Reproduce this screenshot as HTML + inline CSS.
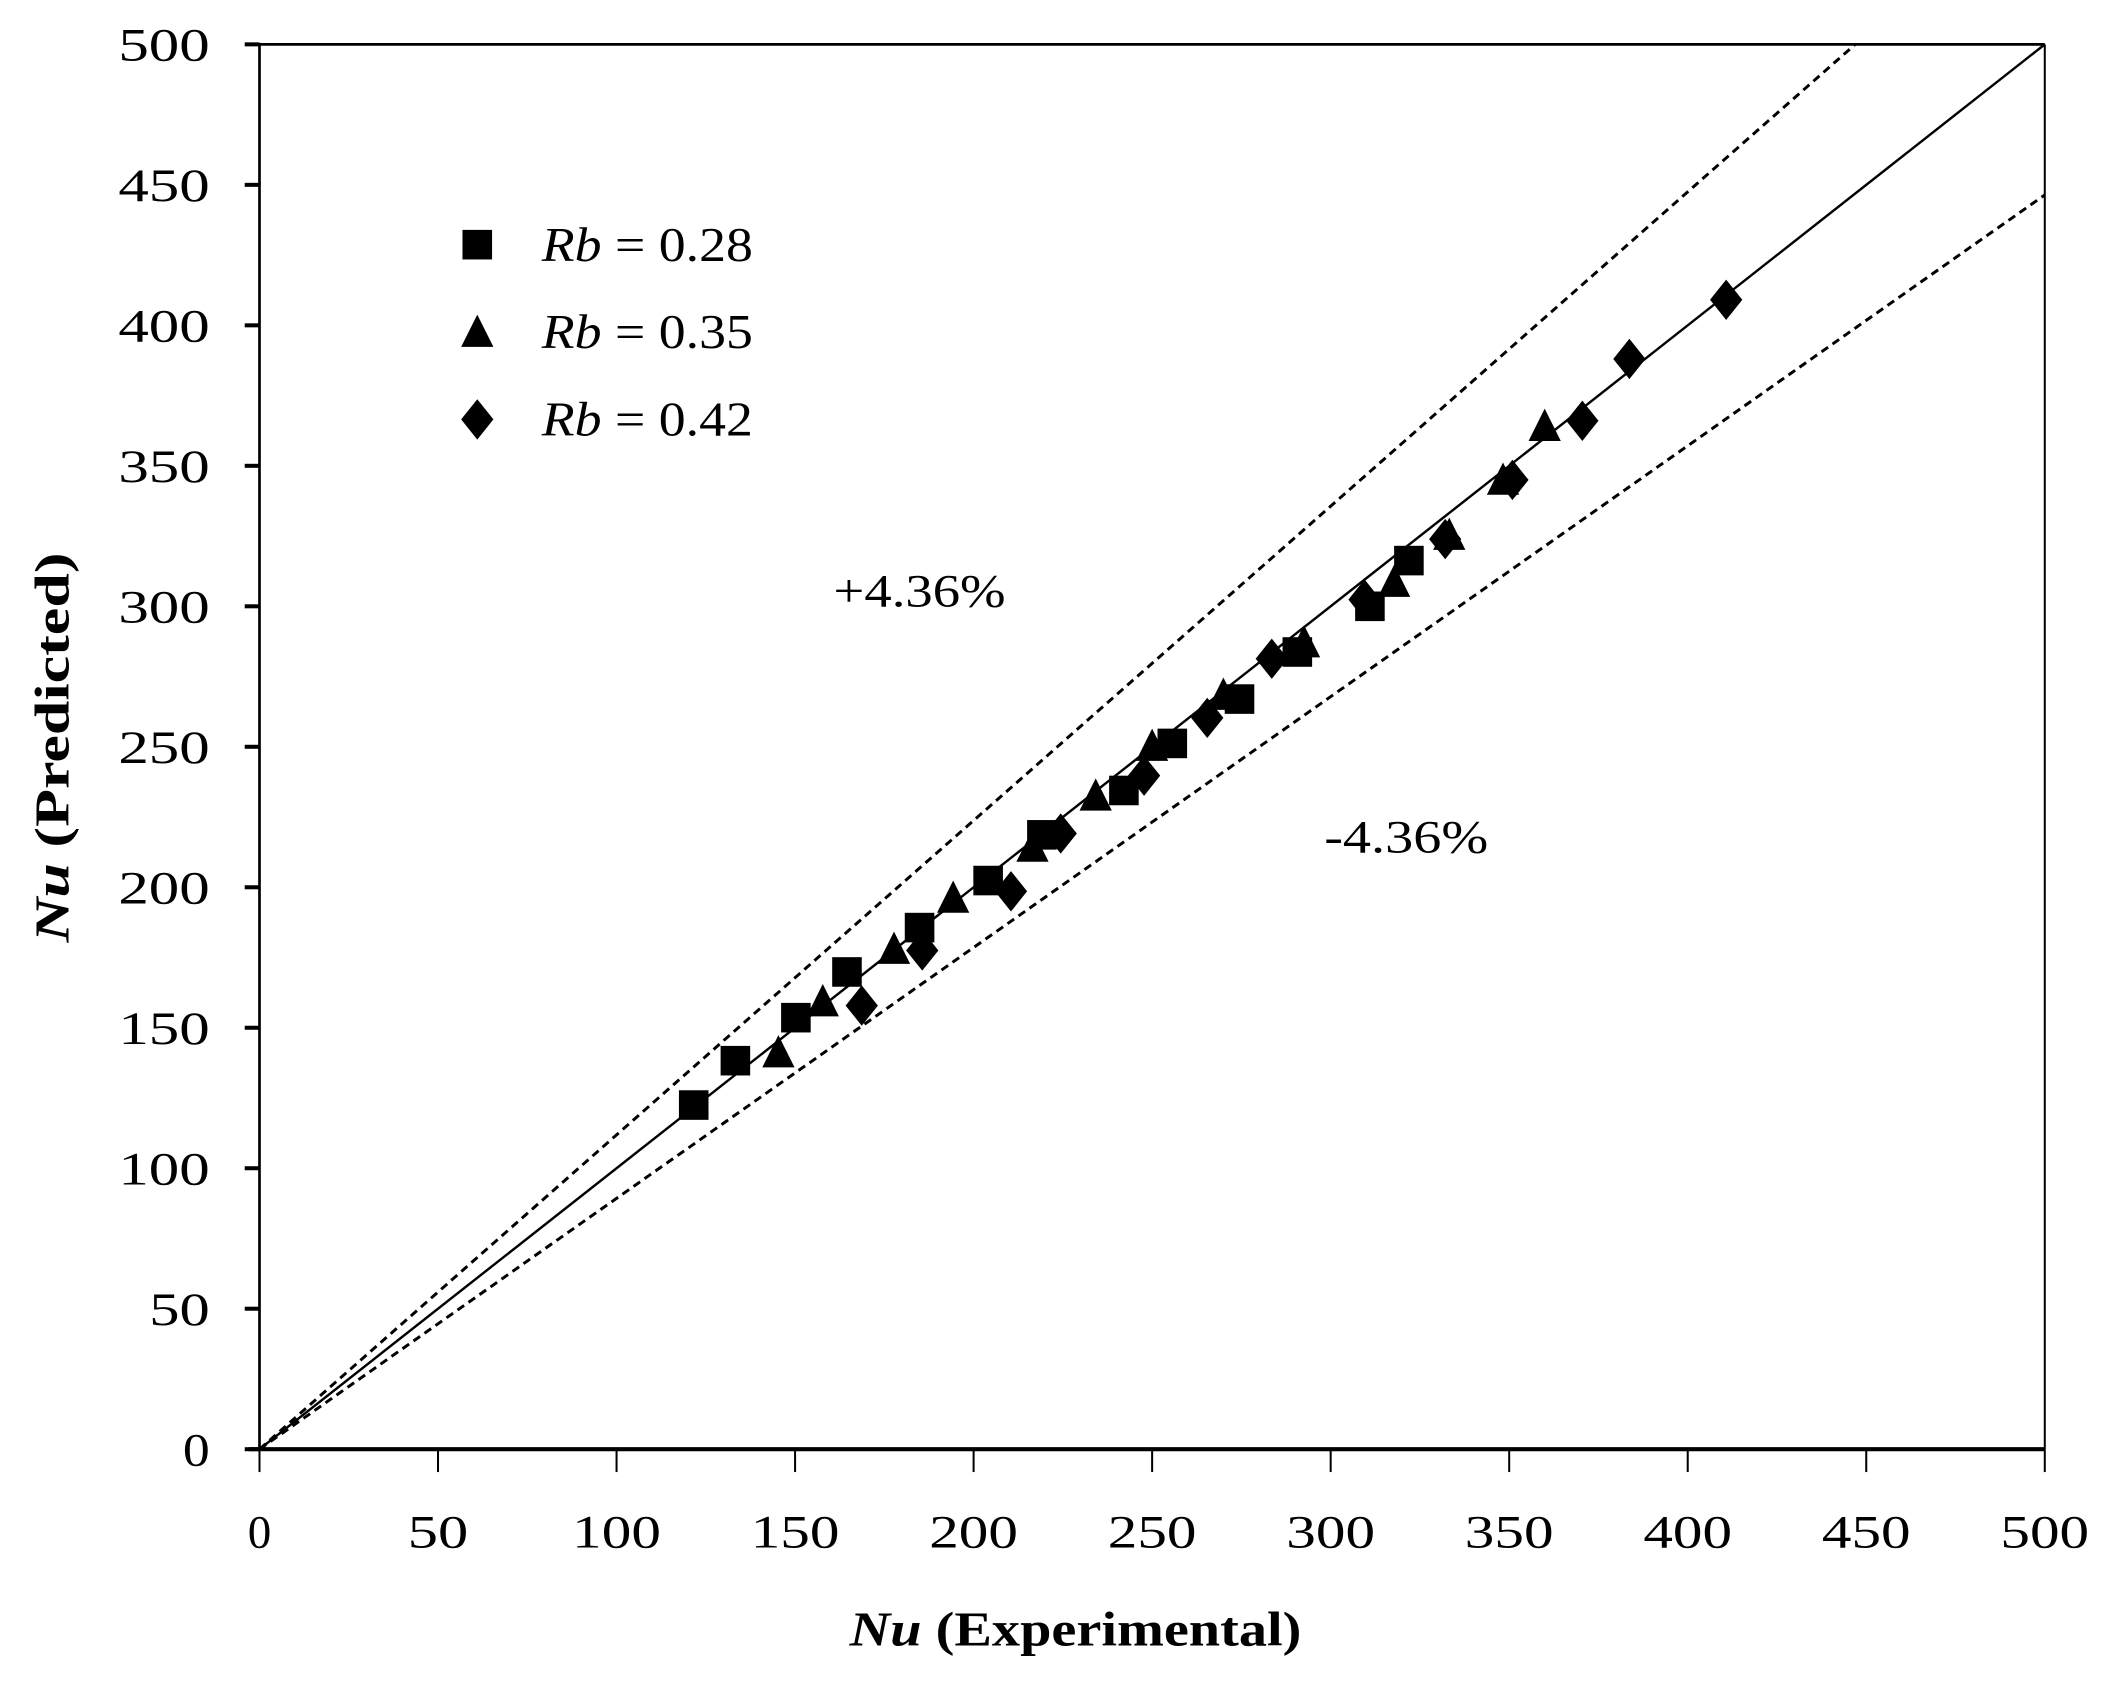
<!DOCTYPE html>
<html><head><meta charset="utf-8"><style>
html,body{margin:0;padding:0;background:#fff;}
svg{display:block;}
text{font-family:"Liberation Serif",serif;fill:#000;}
</style></head><body>
<svg width="2108" height="1685" viewBox="0 0 1568 1253.4" xmlns="http://www.w3.org/2000/svg">
<defs>
<rect id="sq" x="-11" y="-11" width="22" height="22" fill="#000"/>
<polygon id="tr" points="0,-13 12,11 -12,11" fill="#000"/>
<polygon id="dm" points="0,-15 12,0 0,15 -12,0" fill="#000"/>
</defs>
<line x1="193" y1="1078" x2="1521" y2="33" stroke="#000" stroke-width="1.8"/>
<line x1="193" y1="1078" x2="1380" y2="33" stroke="#000" stroke-width="2.2" stroke-dasharray="6,4"/>
<line x1="193" y1="1078" x2="1521" y2="145" stroke="#000" stroke-width="2.2" stroke-dasharray="6,4"/>
<line x1="193" y1="33" x2="1521" y2="33" stroke="#000" stroke-width="2"/>
<line x1="1521" y1="33" x2="1521" y2="1078" stroke="#000" stroke-width="1.5"/>
<line x1="193" y1="33" x2="193" y2="1078" stroke="#000" stroke-width="2"/>
<line x1="185" y1="1078" x2="1521" y2="1078" stroke="#000" stroke-width="3"/>
<g stroke="#000" stroke-width="1.5">
<line x1="193.0" y1="1078" x2="193.0" y2="1095"/><line x1="325.8" y1="1078" x2="325.8" y2="1095"/><line x1="458.6" y1="1078" x2="458.6" y2="1095"/><line x1="591.4" y1="1078" x2="591.4" y2="1095"/><line x1="724.2" y1="1078" x2="724.2" y2="1095"/><line x1="857.0" y1="1078" x2="857.0" y2="1095"/><line x1="989.8" y1="1078" x2="989.8" y2="1095"/><line x1="1122.6" y1="1078" x2="1122.6" y2="1095"/><line x1="1255.4" y1="1078" x2="1255.4" y2="1095"/><line x1="1388.2" y1="1078" x2="1388.2" y2="1095"/><line x1="1521.0" y1="1078" x2="1521.0" y2="1095"/>
</g>
<g stroke="#000" stroke-width="3">
<line x1="182" y1="1078" x2="193" y2="1078"/><line x1="182" y1="973.5" x2="193" y2="973.5"/><line x1="182" y1="869" x2="193" y2="869"/><line x1="182" y1="764.5" x2="193" y2="764.5"/><line x1="182" y1="660" x2="193" y2="660"/><line x1="182" y1="555.5" x2="193" y2="555.5"/><line x1="182" y1="451" x2="193" y2="451"/><line x1="182" y1="346.5" x2="193" y2="346.5"/><line x1="182" y1="242" x2="193" y2="242"/><line x1="182" y1="137.5" x2="193" y2="137.5"/><line x1="182" y1="33" x2="193" y2="33"/>
</g>
<g font-size="35" text-anchor="end">
<text x="156" y="1090" textLength="20" lengthAdjust="spacingAndGlyphs">0</text><text x="156" y="985.5" textLength="45" lengthAdjust="spacingAndGlyphs">50</text><text x="156" y="881" textLength="68" lengthAdjust="spacingAndGlyphs">100</text><text x="156" y="776.5" textLength="68" lengthAdjust="spacingAndGlyphs">150</text><text x="156" y="672" textLength="68" lengthAdjust="spacingAndGlyphs">200</text><text x="156" y="567.5" textLength="68" lengthAdjust="spacingAndGlyphs">250</text><text x="156" y="463" textLength="68" lengthAdjust="spacingAndGlyphs">300</text><text x="156" y="358.5" textLength="68" lengthAdjust="spacingAndGlyphs">350</text><text x="156" y="254" textLength="68" lengthAdjust="spacingAndGlyphs">400</text><text x="156" y="149.5" textLength="68" lengthAdjust="spacingAndGlyphs">450</text><text x="156" y="45" textLength="68" lengthAdjust="spacingAndGlyphs">500</text>
</g>
<g font-size="35" text-anchor="middle">
<text x="193" y="1151">0</text><text x="325.8" y="1151" textLength="45" lengthAdjust="spacingAndGlyphs">50</text><text x="458.6" y="1151" textLength="66" lengthAdjust="spacingAndGlyphs">100</text><text x="591.4" y="1151" textLength="66" lengthAdjust="spacingAndGlyphs">150</text><text x="724.2" y="1151" textLength="66" lengthAdjust="spacingAndGlyphs">200</text><text x="857" y="1151" textLength="66" lengthAdjust="spacingAndGlyphs">250</text><text x="989.8" y="1151" textLength="66" lengthAdjust="spacingAndGlyphs">300</text><text x="1122.6" y="1151" textLength="66" lengthAdjust="spacingAndGlyphs">350</text><text x="1255.4" y="1151" textLength="66" lengthAdjust="spacingAndGlyphs">400</text><text x="1388.2" y="1151" textLength="66" lengthAdjust="spacingAndGlyphs">450</text><text x="1521" y="1151" textLength="66" lengthAdjust="spacingAndGlyphs">500</text>
</g>
<text x="632" y="1224" font-size="36" font-weight="bold" textLength="336" lengthAdjust="spacingAndGlyphs"><tspan font-style="italic">Nu</tspan> (Experimental)</text>
<text transform="translate(51,556) rotate(-90)" font-size="36" font-weight="bold" text-anchor="middle" textLength="290" lengthAdjust="spacingAndGlyphs"><tspan font-style="italic">Nu</tspan> (Predicted)</text>
<text x="620" y="451" font-size="35" textLength="128" lengthAdjust="spacingAndGlyphs">+4.36%</text>
<text x="985" y="634" font-size="35" textLength="122" lengthAdjust="spacingAndGlyphs">-4.36%</text>
<use href="#sq" x="355" y="182"/>
<use href="#tr" x="355" y="247"/>
<use href="#dm" x="355" y="312"/>
<g font-size="36">
<text x="403" y="194" textLength="157" lengthAdjust="spacingAndGlyphs"><tspan font-style="italic">Rb</tspan> = 0.28</text>
<text x="403" y="259" textLength="157" lengthAdjust="spacingAndGlyphs"><tspan font-style="italic">Rb</tspan> = 0.35</text>
<text x="403" y="324" textLength="157" lengthAdjust="spacingAndGlyphs"><tspan font-style="italic">Rb</tspan> = 0.42</text>
</g>
<g>
<use href="#sq" x="516" y="822"/><use href="#sq" x="547" y="789"/><use href="#sq" x="592" y="757"/><use href="#sq" x="630" y="723"/><use href="#sq" x="684" y="690"/><use href="#sq" x="735" y="655"/><use href="#sq" x="775" y="621"/><use href="#sq" x="836" y="588"/><use href="#sq" x="872" y="553"/><use href="#sq" x="922" y="520"/><use href="#sq" x="965" y="485"/><use href="#sq" x="1019" y="451"/><use href="#sq" x="1048" y="417"/>
<use href="#tr" x="579" y="783"/><use href="#tr" x="612" y="745"/><use href="#tr" x="665" y="706"/><use href="#tr" x="709" y="668"/><use href="#tr" x="768" y="630"/><use href="#tr" x="815" y="592"/><use href="#tr" x="857" y="555"/><use href="#tr" x="910" y="517"/><use href="#tr" x="970" y="478"/><use href="#tr" x="1037" y="433"/><use href="#tr" x="1078" y="398"/><use href="#tr" x="1118" y="357"/><use href="#tr" x="1149" y="317"/>
<use href="#dm" x="641" y="748"/><use href="#dm" x="686" y="707"/><use href="#dm" x="752" y="663"/><use href="#dm" x="789" y="620"/><use href="#dm" x="851" y="577"/><use href="#dm" x="898" y="534"/><use href="#dm" x="946" y="490"/><use href="#dm" x="1015" y="446"/><use href="#dm" x="1075" y="401"/><use href="#dm" x="1125" y="357"/><use href="#dm" x="1177" y="313"/><use href="#dm" x="1212" y="267"/><use href="#dm" x="1284" y="223"/>
</g>
</svg>
</body></html>
